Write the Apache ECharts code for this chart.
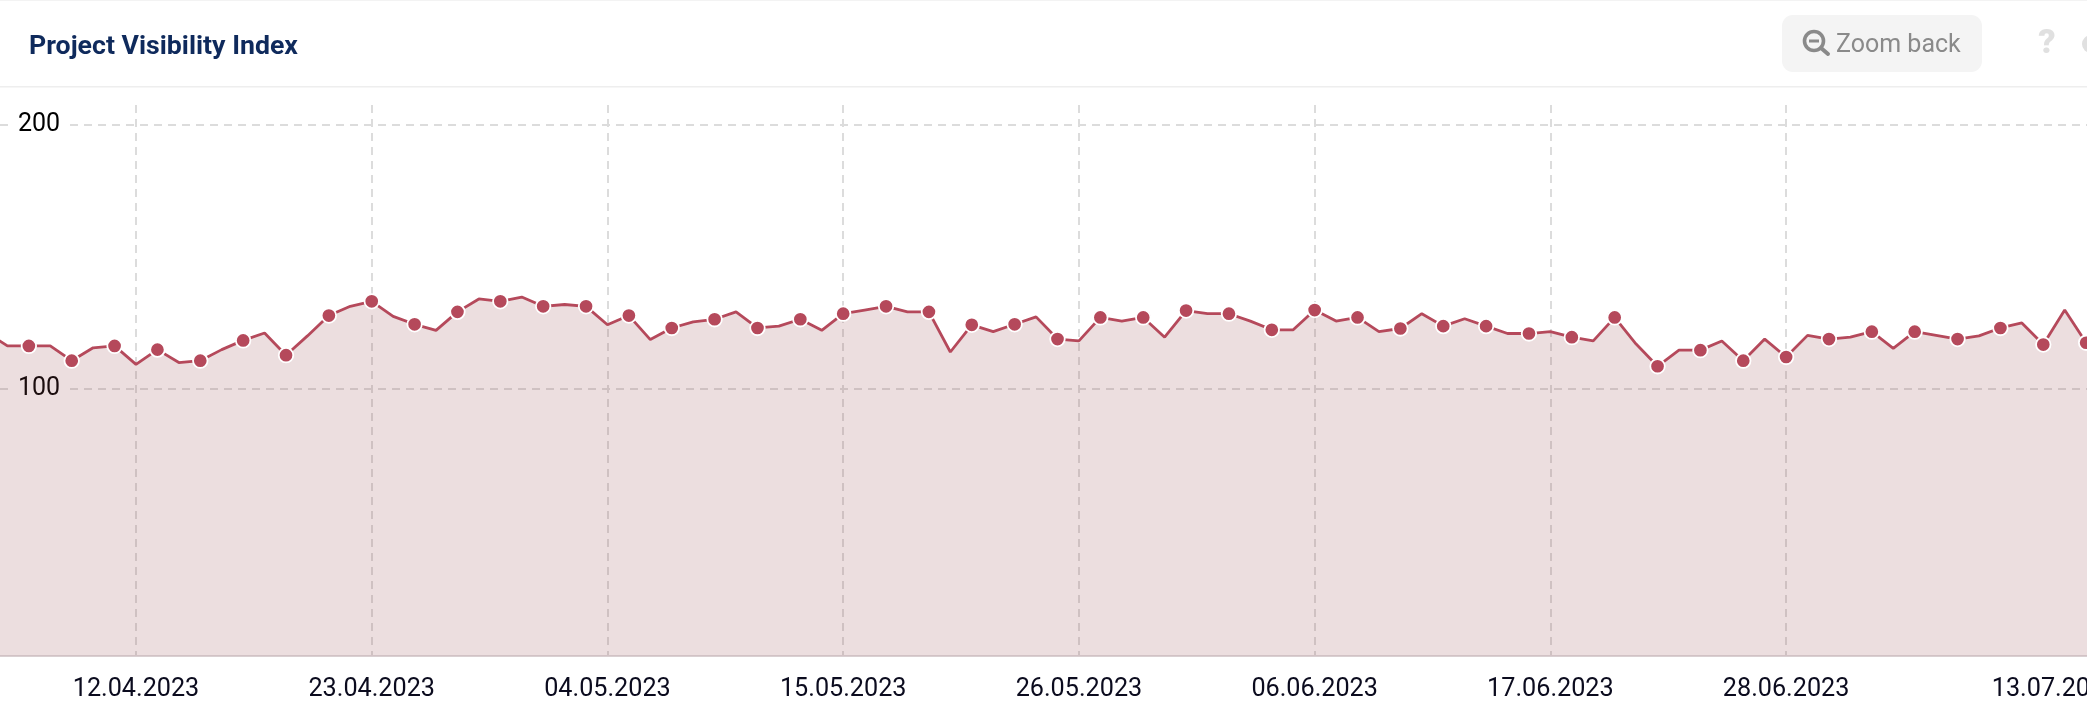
<!DOCTYPE html>
<html>
<head>
<meta charset="utf-8">
<style>html,body{margin:0;padding:0;background:#fff}#c{width:2087px;height:721px}</style>
<script src="https://cdn.jsdelivr.net/npm/echarts@6/dist/echarts.min.js"></script>
</head>
<body>
<div id="c"></div>
<script>
const titleText = 'Project Visibility Index';
const buttonText = 'Zoom back';
// one reading per day; day 0 is 12.04.2023, the first reading is day -7
const firstDay = -7;
const values = [
121.5,116.2,116.2,116.2,110.6,115.5,116.2,109.2,114.8,109.9,110.6,114.8,118.3,121.1,112.7,120.0,
127.7,131.2,133.1,127.4,124.4,122.1,129.1,134.0,133.1,134.7,131.2,131.9,131.2,124.2,127.7,118.6,
123.0,125.3,126.3,129.1,123.0,123.7,126.3,122.1,128.4,129.8,131.2,129.1,129.1,113.9,124.2,121.6,
124.4,127.2,118.8,118.1,127.0,125.6,127.0,119.5,129.6,128.4,128.4,125.6,122.3,122.3,129.8,125.6,
127.0,121.6,122.8,
128.4,123.7,126.5,123.7,120.9,120.9,121.6,119.5,118.1,127.0,116.9,108.5,114.6,114.6,118.1,110.6,
118.8,112.0,120.2,118.8,119.5,121.6,115.3,121.6,120.2,118.8,120.0,123.0,124.9,116.7,129.8,117.4,113.1
];
const tickDays = [0,11,22,33,44,55,66,77];
const tickLabels = ['12.04.2023','23.04.2023','04.05.2023','15.05.2023','26.05.2023','06.06.2023','17.06.2023','28.06.2023'];
const lastLabel = '13.07.2023';
const lastLabelDay = 89.55;
const yTicks = [100,200];

const points = values.map((v,k)=>[firstDay+k,v]);
const labelOf = new Map(tickDays.map((d,k)=>[d,tickLabels[k]]));
labelOf.set(lastLabelDay,lastLabel);

const gray='#8a8a8a';
const chart = echarts.init(document.getElementById('c'));
chart.setOption({
  animation:false,
  backgroundColor:'#fff',
  textStyle:{fontFamily:'Roboto'},
  title:{text:titleText,left:29,top:34,padding:0,textStyle:{fontFamily:'Roboto',fontWeight:'bold',fontSize:26.7,color:'#0f2a5c'}},
  grid:{left:0,right:0,top:105,height:550.5,containLabel:false,outerBoundsMode:'none'},
  xAxis:{
    type:'value',min:-6.346,max:91.04,
    axisLine:{onZero:false,lineStyle:{color:'#d9cfd1',width:2}},
    axisTick:{show:false,customValues:tickDays},
    splitLine:{show:true,lineStyle:{color:'#dcdcdc',width:2,type:[8,6]}},
    axisLabel:{customValues:[...tickDays,lastLabelDay],hideOverlap:false,margin:22,fontFamily:'Roboto',fontSize:25.2,color:'#0b0b1e',
      formatter:v=>labelOf.get(v)||''}
  },
  yAxis:{
    type:'value',min:-1.06,max:207.46,
    axisLine:{show:false},
    axisTick:{show:false,customValues:yTicks},
    splitLine:{show:true,lineStyle:{color:'#dcdcdc',width:2,type:[8,6]}},
    axisLabel:{inside:true,customValues:yTicks,margin:13,
      formatter:v=>'{w|'+v+'}',
      rich:{
        w:{fontFamily:'Roboto',fontSize:25,color:'#000',backgroundColor:'#fff',padding:[0,7,0,5]}
      }}
  },
  series:[{
    type:'line',data:points,showAllSymbol:true,clip:true,smooth:false,
    symbol:(val)=>Math.abs(val[0])%2===1?'circle':'none',
    symbolSize:14.5,
    lineStyle:{color:'#b5495b',width:2.8},
    itemStyle:{color:'#b5495b',borderColor:'#fff',borderWidth:1.8,opacity:1},
    areaStyle:{origin:'start',opacity:1,color:'rgba(150,70,80,0.18)'}
  }],
  graphic:[
    {type:'rect',silent:true,z:-1,shape:{x:0,y:86,width:2087,height:1.5},style:{fill:'#eeeeee'}},
    {type:'rect',silent:true,shape:{x:0,y:0,width:2087,height:1},style:{fill:'#f3f3f3'}},
    {type:'rect',silent:true,shape:{x:1782,y:15,width:200,height:57,r:11},style:{fill:'#f4f4f4'}},
    {type:'circle',silent:true,shape:{cx:1814,cy:41,r:9.5},style:{fill:'none',stroke:gray,lineWidth:3.6}},
    {type:'line',silent:true,shape:{x1:1821,y1:48,x2:1828,y2:54},style:{stroke:gray,lineWidth:4,lineCap:'round'}},
    {type:'rect',silent:true,shape:{x:1809,y:39.5,width:10,height:3},style:{fill:gray}},
    {type:'text',silent:true,x:1836,y:45.5,style:{text:buttonText,font:'25px Roboto',fill:gray,textVerticalAlign:'middle'}},
    {type:'text',silent:true,x:2047,y:44,style:{text:'?',font:'900 34px Roboto',fill:'#e0e0e0',textAlign:'center',textVerticalAlign:'middle'}},
    {type:'circle',silent:true,shape:{cx:2091,cy:44,r:9},style:{fill:'#e0e0e0'}}
  ]
});
</script>
</body>
</html>
